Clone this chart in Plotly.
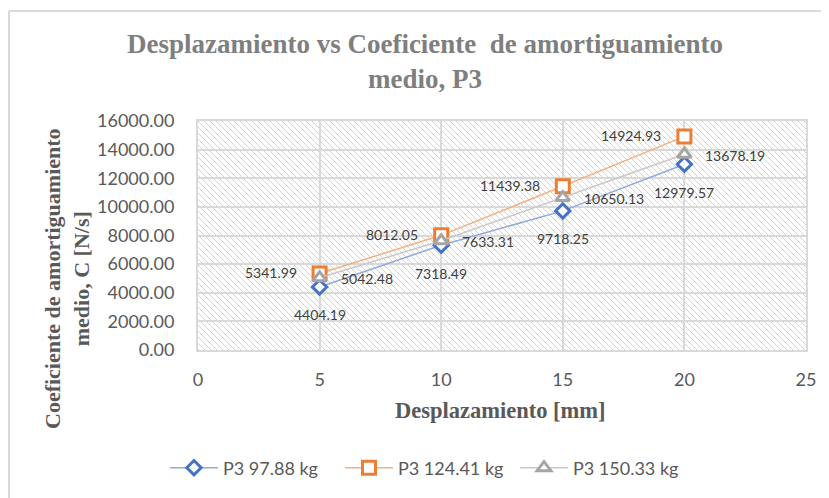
import base64
import plotly.graph_objects as go

desplazamiento = [5, 10, 15, 20]
p3_97 = [4404.19, 7318.49, 9718.25, 12979.57]
p3_124 = [5341.99, 8012.05, 11439.38, 14924.93]
p3_150 = [5042.48, 7633.31, 10650.13, 13678.19]
series_names = ["P3 97.88 kg", "P3 124.41 kg", "P3 150.33 kg"]
y_ticks = [0, 2000, 4000, 6000, 8000, 10000, 12000, 14000, 16000]
x_ticks = [0, 5, 10, 15, 20, 25]

OFF = 8  # page body margin
W, H = 829 - OFF, 498 - OFF
L, T = 198 - OFF, 121 - OFF
pw, ph = 608, 229
R, B = W - L - pw, H - T - ph

def px_x(p):
    return (p - OFF - L) / pw

def px_y(p):
    return (H - B - (p - OFF)) / ph

svg = f'''<svg xmlns="http://www.w3.org/2000/svg" width="{pw}" height="{ph}">
<defs><pattern id="h" width="6" height="6" patternUnits="userSpaceOnUse">
<path d="M-1,-1 L7,7 M-7,-1 L1,7 M5,-1 L13,7" stroke="#d3d3d3" stroke-width="1"/>
</pattern></defs>
<rect width="100%" height="100%" fill="white"/>
<rect width="100%" height="100%" fill="url(#h)"/></svg>'''
src = "data:image/svg+xml;base64," + base64.b64encode(svg.encode()).decode()

fig = go.Figure()
styles = [
    (p3_97, "#8FAADC", "#4472C4", "diamond", 11),
    (p3_124, "#F4B183", "#ED7D31", "square", 13),
    (p3_150, "#C9C9C9", "#A5A5A5", "triangle-up", 12),
]
for (vals, lc, mc, sym, sz), name in zip(styles, series_names):
    fig.add_trace(go.Scatter(
        x=desplazamiento, y=vals, name=name, mode="lines+markers",
        line=dict(color=lc, width=1.5),
        marker=dict(symbol=sym, size=sz, color="white", line=dict(color=mc, width=3)),
    ))

annotations = []
lab_font = dict(family="Lato, Carlito, sans-serif", size=14, color="#404040")
for xv, yv in zip(desplazamiento, p3_97):
    annotations.append(dict(x=xv, y=yv, text=f"{yv:.2f}", showarrow=False,
                            xanchor="center", yanchor="middle", yshift=-28, font=lab_font))
for xv, yv in zip(desplazamiento, p3_124):
    annotations.append(dict(x=xv, y=yv, text=f"{yv:.2f}", showarrow=False,
                            xanchor="right", yanchor="middle", xshift=-21, yshift=1, font=lab_font))
for xv, yv in zip(desplazamiento, p3_150):
    annotations.append(dict(x=xv, y=yv, text=f"{yv:.2f}", showarrow=False,
                            xanchor="left", yanchor="middle", xshift=19, yshift=-1, font=lab_font))

serif = "Liberation Serif, Times New Roman, serif"
annotations.append(dict(xref="paper", yref="paper", x=px_x(67), y=px_y(279),
                        text="<b>Coeficiente de amortiguamiento<br>medio, C [N/s]</b>",
                        textangle=-90, showarrow=False, xanchor="center", yanchor="middle",
                        font=dict(family=serif, size=22, color="#595959")))
annotations.append(dict(xref="paper", yref="paper", x=px_x(500), y=px_y(410),
                        text="<b>Desplazamiento [mm]</b>", showarrow=False,
                        xanchor="center", yanchor="middle",
                        font=dict(family=serif, size=22.5, color="#595959")))

border = "#D9D9D9"
shapes = [
    dict(type="line", xref="paper", yref="paper", x0=px_x(9), x1=px_x(9), y0=px_y(510), y1=px_y(11),
         line=dict(color=border, width=2)),
    dict(type="line", xref="paper", yref="paper", x0=px_x(9), x1=px_x(840), y0=px_y(11), y1=px_y(11),
         line=dict(color=border, width=2)),
]

tick_font = dict(family="Lato, Carlito, sans-serif", size=18, color="#595959")
fig.update_layout(
    width=W, height=H,
    margin=dict(l=L, r=R, t=T, b=B),
    paper_bgcolor="white", plot_bgcolor="rgba(0,0,0,0)",
    title=dict(text="<b>Desplazamiento vs Coeficiente  de amortiguamiento<br>medio, P3</b>",
               x=(425 - OFF) / W, xref="container", xanchor="center",
               y=1 - (53 - OFF) / H, yref="container", yanchor="middle",
               font=dict(family=serif, size=27, color="#7F7F7F")),
    xaxis=dict(range=[0, 25], tickvals=x_ticks, showgrid=True, gridcolor=border, gridwidth=2,
               showline=True, linecolor=border, linewidth=2, mirror=True, zeroline=False,
               tickfont=tick_font, ticks="", ticklabelstandoff=12),
    yaxis=dict(range=[0, 16000], tickvals=y_ticks, tickformat=".2f", showgrid=True,
               gridcolor=border, gridwidth=2, showline=True, linecolor=border, linewidth=2,
               mirror=True, zeroline=False, tickfont=tick_font, ticks="", ticklabelstandoff=18),
    legend=dict(orientation="h", x=px_x(165), xanchor="left", y=px_y(468), yanchor="middle",
                font=dict(family="Lato, Carlito, sans-serif", size=18, color="#595959"),
                itemwidth=48, entrywidth=112, traceorder="normal"),
    annotations=annotations,
    shapes=shapes,
    images=[dict(source=src, xref="paper", yref="paper", x=0, y=1, sizex=1, sizey=1,
                 sizing="stretch", xanchor="left", yanchor="top", layer="below")],
    showlegend=True,
)

fig.write_html("out.html")
